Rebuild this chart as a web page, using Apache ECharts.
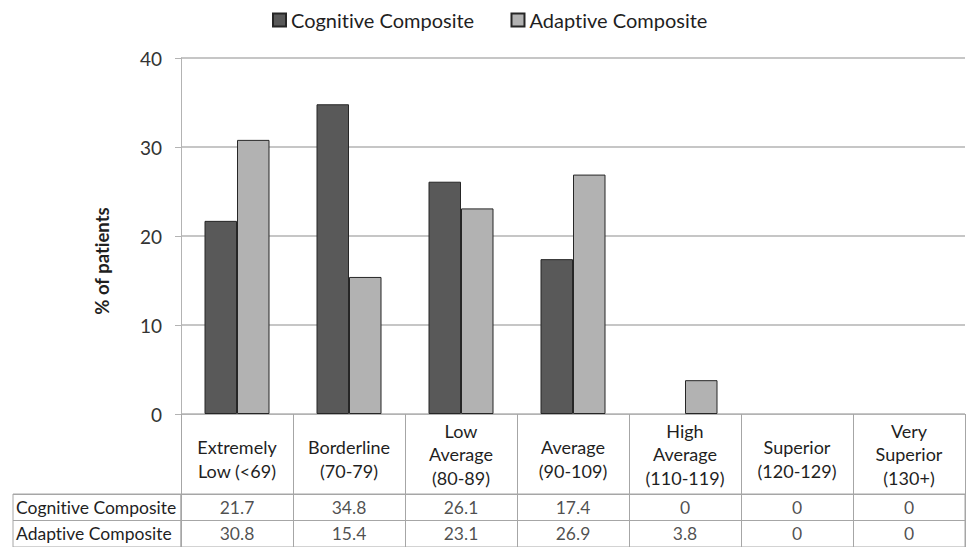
<!DOCTYPE html>
<html>
<head>
<meta charset="utf-8">
<script src="https://cdn.jsdelivr.net/npm/echarts@6/dist/echarts.min.js"></script>
<style>
html,body{margin:0;padding:0;background:#fff;}
#chart{width:966px;height:547px;}
#chart text{font-variant-ligatures:none;font-feature-settings:"liga" 0, "clig" 0;}
</style>
</head>
<body>
<div id="chart"></div>
<script>
const categories = ['Extremely\nLow (<69)', 'Borderline\n(70-79)', 'Low\nAverage\n(80-89)', 'Average\n(90-109)', 'High\nAverage\n(110-119)', 'Superior\n(120-129)', 'Very\nSuperior\n(130+)'];
const seriesNames = ['Cognitive Composite', 'Adaptive Composite'];
const cognitive = [21.7, 34.8, 26.1, 17.4, 0, 0, 0];
const adaptive = [30.8, 15.4, 23.1, 26.9, 3.8, 0, 0];
const yAxisTitle = '% of patients';

const FONT = 'Lato';
const GRID_LINE = '#b3b3b3';
const TABLE_LINE = '#a6a6a6';
const TEXT = '#1f1f1f';

const chart = echarts.init(document.getElementById('chart'), null, {renderer: 'svg'});

const tableData = [];
[cognitive, adaptive].forEach((arr, r) => {
  arr.forEach((v, i) => tableData.push([categories[i], seriesNames[r], v]));
});
// zero-height bars draw no outline
const barItems = arr => arr.map(v => v === 0 ? {value: v, itemStyle: {borderWidth: 0}} : v);

const option = {
  backgroundColor: '#fff',
  textStyle: {fontFamily: FONT},
  animation: false,
  legend: {
    data: seriesNames,
    top: 5,
    left: 267,
    icon: 'rect',
    itemWidth: 13,
    itemHeight: 13,
    itemGap: 36,
    textStyle: {fontFamily: FONT, fontSize: 20, color: TEXT}
  },
  grid: [
    {left: 181, right: 1, top: 58, height: 356},
    {left: 181, right: 1, top: 494, height: 53, show: true, borderColor: TABLE_LINE, borderWidth: 1, backgroundColor: 'transparent'},
    {left: 13, width: 168, top: 494, height: 53, show: true, borderColor: TABLE_LINE, borderWidth: 1, backgroundColor: 'transparent'}
  ],
  xAxis: [
    {
      gridIndex: 0, type: 'category', data: categories,
      axisLine: {show: true, lineStyle: {color: GRID_LINE, width: 1}},
      axisTick: {show: true, interval: 0, length: 80, lineStyle: {color: TABLE_LINE}},
      axisLabel: {
        interval: 0, margin: 40, verticalAlign: 'middle', fontFamily: FONT, fontSize: 18, lineHeight: 23.5, color: TEXT,
        // two-line header labels sit a little lower, as in the source table
        formatter: v => v.split('\n').length === 2 ? '{s| }\n' + v : v,
        rich: {s: {fontSize: 2, lineHeight: 10}}
      },
      splitLine: {show: false}
    },
    {
      gridIndex: 1, type: 'category', data: categories,
      axisLine: {show: false}, axisTick: {show: false}, axisLabel: {show: false},
      splitLine: {show: true, interval: 0, lineStyle: {color: TABLE_LINE, width: 1}}
    },
    {
      gridIndex: 2, type: 'value', show: false
    }
  ],
  yAxis: [
    {
      gridIndex: 0, type: 'value', min: 0, max: 40, interval: 10,
      name: yAxisTitle, nameLocation: 'middle', nameGap: 70,
      nameTextStyle: {fontFamily: FONT, fontSize: 18.5, fontWeight: 'bold', color: TEXT, padding: [0, 50, 0, 0]},
      axisLine: {show: true, lineStyle: {color: GRID_LINE}},
      axisTick: {show: true, length: 6, lineStyle: {color: GRID_LINE}},
      axisLabel: {margin: 19, fontFamily: FONT, fontSize: 19, color: '#333'},
      splitLine: {show: true, lineStyle: {color: GRID_LINE, width: 1.5}}
    },
    {
      gridIndex: 1, type: 'category', data: seriesNames, inverse: true,
      axisLine: {show: false}, axisTick: {show: false}, axisLabel: {show: false},
      splitLine: {show: true, interval: 0, lineStyle: {color: TABLE_LINE, width: 1}}
    },
    {
      gridIndex: 2, type: 'category', data: seriesNames, inverse: true,
      axisLine: {show: false}, axisTick: {show: false},
      axisLabel: {inside: true, margin: 3, fontFamily: FONT, fontSize: 17.5, color: TEXT},
      splitLine: {show: true, interval: 0, lineStyle: {color: TABLE_LINE, width: 1}}
    }
  ],
  series: [
    {
      name: seriesNames[0], type: 'bar', xAxisIndex: 0, yAxisIndex: 0,
      data: barItems(cognitive), barWidth: 32.5, barGap: '0%',
      itemStyle: {color: '#595959', borderColor: '#262626', borderWidth: 1}
    },
    {
      name: seriesNames[1], type: 'bar', xAxisIndex: 0, yAxisIndex: 0,
      data: barItems(adaptive), barWidth: 32.5, barGap: '0%',
      itemStyle: {color: '#b2b2b2', borderColor: '#262626', borderWidth: 1}
    },
    {
      name: 'tableValues', type: 'scatter', xAxisIndex: 1, yAxisIndex: 1,
      data: tableData, symbolSize: 0, silent: true,
      label: {show: true, position: 'inside', formatter: p => String(p.value[2]), fontFamily: FONT, fontSize: 17.5, color: TEXT}
    }
  ]
};
chart.setOption(option);
</script>
</body>
</html>
